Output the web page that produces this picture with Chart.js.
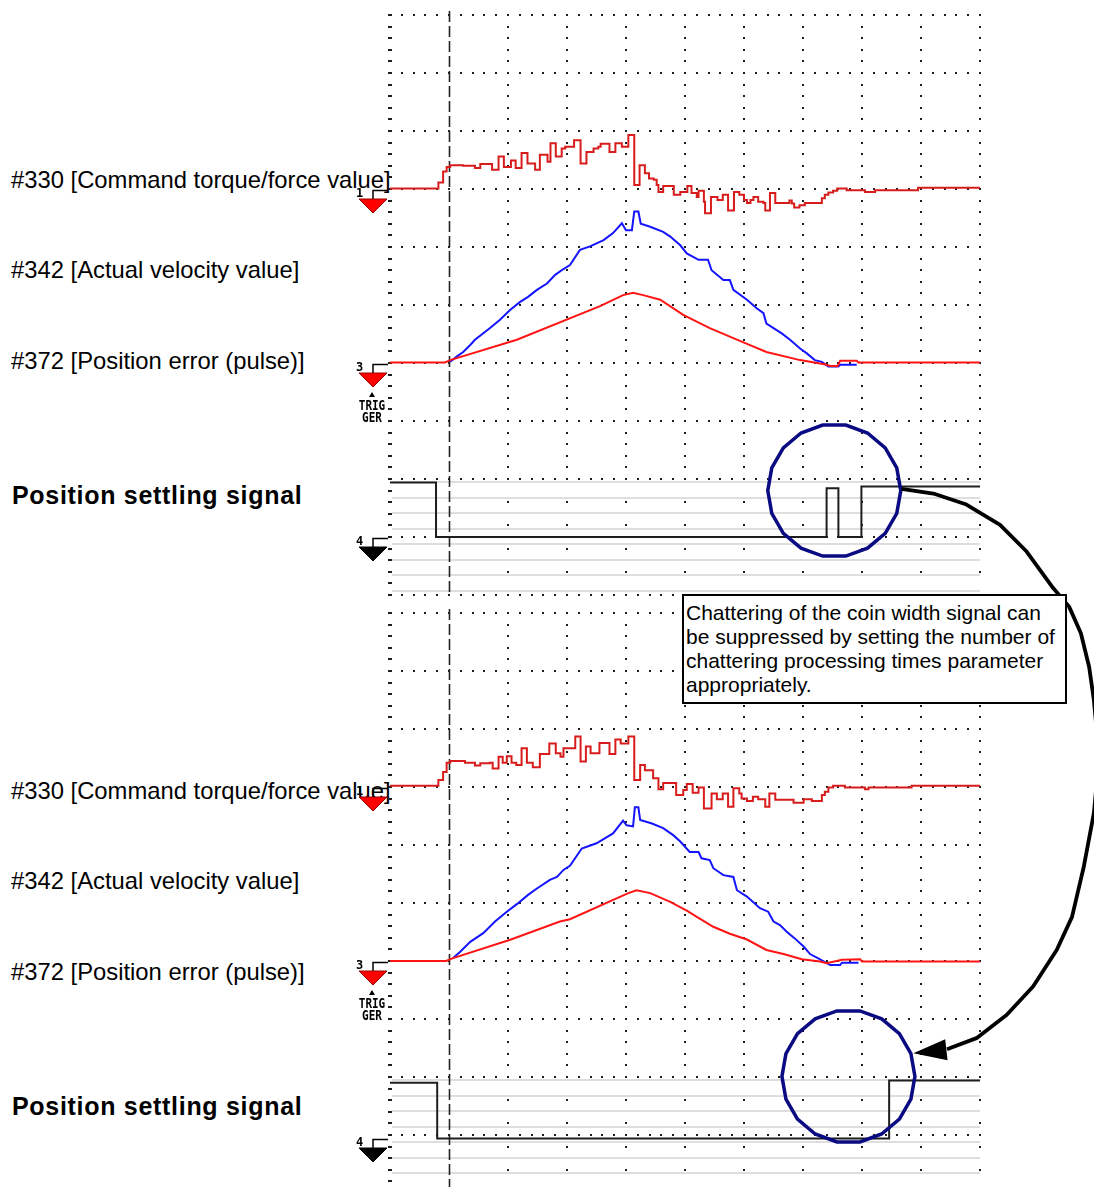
<!DOCTYPE html>
<html>
<head>
<meta charset="utf-8">
<script src="https://cdn.jsdelivr.net/npm/chart.js@4.4.0/dist/chart.umd.min.js"></script>
<style>
  html, body { margin: 0; padding: 0; background: #fff; overflow: hidden; }
  #page { position: relative; width: 1094px; height: 1187px; overflow: hidden; }
  canvas { position: absolute; left: 0; top: 0; }
  .lbl {
    position: absolute; left: 11px; white-space: nowrap; color: #000;
    font-family: "Liberation Sans", Arial, sans-serif; font-size: 23.8px; line-height: 1;
  }
  .lbl.b { left: 12px; font-weight: bold; font-size: 25px; letter-spacing: 0.7px; }
  #note {
    position: absolute; left: 682px; top: 594px; width: 385px; height: 110px;
    box-sizing: border-box; border: 2px solid #000; background: #fff; z-index: 5;
    padding: 5px 0 0 2px; color: #000;
    font-family: "Liberation Sans", Arial, sans-serif; font-size: 21px; line-height: 24px;
  }
</style>
</head>
<body>
<div id="page">
  <div class="lbl" style="top:168px">#330 [Command torque/force value]</div>
  <div class="lbl" style="top:258px">#342 [Actual velocity value]</div>
  <div class="lbl" style="top:349px">#372 [Position error (pulse)]</div>
  <div class="lbl b" style="top:483px">Position settling signal</div>

  <div class="lbl" style="top:779px">#330 [Command torque/force value]</div>
  <div class="lbl" style="top:869px">#342 [Actual velocity value]</div>
  <div class="lbl" style="top:960px">#372 [Position error (pulse)]</div>
  <div class="lbl b" style="top:1094px">Position settling signal</div>

  <canvas id="scope1" width="1094" height="1200"></canvas>
  <canvas id="scope2" width="1094" height="1200"></canvas>

  <div id="note">Chattering of the coin width signal can<br>be suppressed by setting the number of<br>chattering processing times parameter<br>appropriately.</div>
</div>

<script>
// ===== values in scope divisions (x: 10 div, y: 10 div per panel) =====
// upper capture (chattering present)
const torque1X = [0,0.82,0.90,0.96,1.02,1.24,1.44,1.53,1.73,1.84,1.93,2.05,2.13,2.23,2.33,2.46,2.54,2.67,2.72,2.81,2.91,2.97,3.12,3.23,3.33,3.45,3.53,3.57,3.72,3.82,3.93,4.04,4.14,4.23,4.32,4.39,4.47,4.52,4.55,4.63,4.81,4.92,5.04,5.11,5.20,5.23,5.32,5.34,5.44,5.55,5.64,5.73,5.83,5.92,6.00,6.05,6.11,6.16,6.24,6.33,6.36,6.44,6.53,6.77,6.81,6.85,6.94,7.03,7.32,7.37,7.43,7.51,7.58,7.74,8.05,8.22,8.95,10];
const torque1Y = [7.01,7.11,7.30,7.38,7.41,7.40,7.36,7.43,7.33,7.56,7.38,7.49,7.36,7.62,7.44,7.33,7.59,7.47,7.79,7.56,7.70,7.73,7.84,7.44,7.64,7.70,7.73,7.78,7.64,7.79,7.73,7.93,7.07,7.41,7.27,7.18,7.16,7.07,6.95,7.05,6.90,6.95,7.05,6.93,6.86,6.97,6.78,6.58,6.86,6.81,6.90,6.63,6.95,6.90,6.81,6.76,6.81,6.86,6.78,6.76,6.63,6.93,6.76,6.80,6.75,6.68,6.72,6.76,6.84,6.90,6.94,6.97,7.01,6.98,6.95,6.98,7.02,7.02];

const velocity1X = [1.02,1.13,1.24,1.36,1.44,1.69,1.86,2.03,2.20,2.34,2.49,2.66,2.80,2.94,3.05,3.22,3.39,3.62,3.78,3.93,4.00,4.10,4.14,4.21,4.25,4.41,4.63,4.75,4.92,5.03,5.23,5.39,5.45,5.65,5.76,5.82,6.05,6.22,6.33,6.38,6.64,6.78,6.95,7.06,7.20,7.32,7.43,7.60,7.63,7.91];
const velocity1Y = [4.02,4.11,4.19,4.31,4.40,4.60,4.74,4.91,5.05,5.14,5.26,5.37,5.52,5.62,5.69,5.95,6.01,6.12,6.24,6.41,6.29,6.29,6.61,6.61,6.40,6.35,6.26,6.18,6.03,5.89,5.78,5.78,5.60,5.43,5.43,5.26,5.09,4.94,4.86,4.68,4.51,4.40,4.25,4.17,4.05,4.02,3.94,3.94,3.97,3.97];

const posErr1X = [0,0.93,1.02,2.15,3.56,3.95,4.12,4.29,4.58,4.97,5.42,6.00,6.38,6.95,7.29,7.40,7.46,7.59,7.63,7.91,7.94,10];
const posErr1Y = [4.01,4.01,4.05,4.40,4.98,5.17,5.21,5.17,5.09,4.83,4.60,4.35,4.19,4.05,3.99,3.97,3.95,3.95,4.04,4.04,4.01,4.01];

const settle1X = [0,0.78,7.40,7.60,7.99,10];
const settle1Y = [1.94,1.00,1.84,1.00,1.87,1.87];

// lower capture (chattering suppressed)
const torque2X = [0,0.82,0.90,0.96,1.02,1.27,1.44,1.53,1.69,1.74,1.84,1.91,1.98,2.06,2.14,2.23,2.32,2.42,2.54,2.70,2.81,2.89,2.94,3.14,3.23,3.32,3.40,3.55,3.72,3.82,3.91,4.04,4.14,4.24,4.32,4.46,4.55,4.63,4.85,4.97,5.03,5.13,5.23,5.32,5.45,5.54,5.64,5.73,5.82,5.92,5.96,6.05,6.15,6.24,6.36,6.43,6.53,6.84,7.01,7.15,7.32,7.37,7.43,7.51,7.71,8.05,8.11,8.84,10];
const torque2Y = [7.02,7.12,7.26,7.42,7.45,7.42,7.37,7.41,7.42,7.32,7.52,7.42,7.53,7.42,7.38,7.67,7.42,7.34,7.57,7.75,7.58,7.52,7.67,7.87,7.44,7.70,7.58,7.76,7.57,7.82,7.75,7.87,7.12,7.38,7.29,7.15,6.96,7.07,6.86,6.95,7.05,6.90,6.99,6.63,6.89,6.79,6.89,6.66,6.98,6.89,6.80,6.76,6.83,6.79,6.66,6.89,6.78,6.73,6.79,6.76,6.86,6.92,6.99,7.02,6.99,6.96,6.99,7.02,7.02];

const velocity2X = [1.07,1.19,1.36,1.58,1.78,1.98,2.15,2.34,2.49,2.71,2.83,2.94,3.05,3.25,3.50,3.78,3.95,4.01,4.12,4.15,4.21,4.24,4.44,4.63,4.80,4.92,5.08,5.23,5.28,5.42,5.48,5.65,5.82,5.88,6.05,6.27,6.41,6.50,6.61,6.72,6.86,7.01,7.12,7.29,7.46,7.63,7.66,7.94];
const velocity2Y = [4.05,4.16,4.33,4.48,4.68,4.85,4.98,5.14,5.25,5.40,5.45,5.57,5.64,5.94,6.03,6.20,6.42,6.34,6.32,6.65,6.65,6.43,6.37,6.29,6.17,6.06,5.88,5.88,5.77,5.74,5.60,5.48,5.45,5.22,5.11,4.91,4.85,4.68,4.62,4.51,4.39,4.25,4.12,4.03,3.93,3.93,3.97,3.97];

const posErr2X = [0,0.95,1.07,2.05,2.88,3.05,3.84,4.04,4.18,4.41,4.75,5.03,5.20,5.48,5.76,6.05,6.38,6.67,6.98,7.29,7.40,7.66,7.97,8.00,10];
const posErr2Y = [4.00,4.00,4.05,4.37,4.68,4.72,5.08,5.17,5.22,5.17,5.02,4.87,4.76,4.59,4.47,4.37,4.19,4.12,4.03,3.99,3.96,4.02,4.03,3.99,3.99];

const settle2X = [0,0.80,8.46,10];
const settle2Y = [1.90,0.94,1.94,1.94];

// channel zero markers and trigger position
const triggerX = 1.0;
const markers1 = [["1", 7.0, "#ff0000"], ["3", 4.0, "#ff0000"], ["4", 1.0, "#000000"]];
const markers2 = [["1", 7.0, "#ff0000"], ["3", 4.0, "#ff0000"], ["4", 0.95, "#000000"]];

// annotations (circle centres and arrow path, in scope divisions)
const circle1 = [7.53, 1.80];
const circle2 = [7.77, 2.01];
const arrowX = [8.67, 9.21, 9.77, 10.34, 10.79, 11.24, 11.51, 11.71, 11.85, 11.93, 12.02, 11.93, 11.76, 11.56, 11.30, 10.90, 10.45, 9.94, 9.44];
const arrowY = [12.14, 12.06, 11.87, 11.52, 11.06, 10.43, 10.11, 9.65, 9.07, 8.50, 7.52, 6.55, 5.63, 4.76, 4.19, 3.56, 3.07, 2.67, 2.48];
const arrowHead = [[8.87, 2.41], [9.41, 2.65], [9.45, 2.29]];

// =========================
// HELPERS
// =========================
const pts = (xs, ys) => xs.map((x, i) => ({ x: x, y: ys[i] }));

function dot(ctx, px, py, w, h) {
  ctx.fillRect(Math.round(px) - 1, Math.round(py) - 1, w, h);
}

// dotted scope graticule, bit lanes and trigger line
const scopeGrid = {
  id: "scopeGrid",
  beforeDatasetsDraw(chart) {
    const { ctx, chartArea: a, scales: { x, y } } = chart;
    ctx.save();

    // light lanes of the digital channel
    ctx.fillStyle = "#dedede";
    for (let k = 0; k < 8; k++) {
      const py = Math.round(y.getPixelForValue(1.94 - k * 0.267));
      ctx.fillRect(a.left + 2, py - 1, x.getPixelForValue(10) - a.left - 2, 2);
    }

    ctx.fillStyle = "#1e1e1e";
    // horizontal division lines
    for (let j = 0; j <= 10; j++) {
      const py = y.getPixelForValue(j);
      for (let i = 1; i <= 50; i++) dot(ctx, x.getPixelForValue(i / 5), py, 2, 2);
    }
    // vertical division lines
    for (let d = 2; d <= 10; d++) {
      const px = x.getPixelForValue(d);
      for (let j = 0; j <= 50; j++) {
        if (j < 10 && j % 2 === 1) continue;
        dot(ctx, px, y.getPixelForValue(j / 5), 2, 2);
      }
    }
    // left edge ticks
    for (let j = 0; j <= 50; j++) dot(ctx, a.left - 1, y.getPixelForValue(j / 5), 4, 2);

    // trigger
    const tx = Math.round(x.getPixelForValue(triggerX)) + 0.5;
    ctx.strokeStyle = "#222";
    ctx.lineWidth = 1.6;
    ctx.setLineDash([11, 4]);
    ctx.beginPath();
    ctx.moveTo(tx, a.top - 4);
    ctx.lineTo(tx, a.bottom);
    ctx.stroke();
    ctx.restore();
  },
  afterDatasetsDraw(chart, args, opts) {
    const { ctx, chartArea: a, scales: { y } } = chart;
    const x0 = a.left;
    ctx.save();
    opts.markers.forEach(([ch, level, color]) => {
      const py = Math.round(y.getPixelForValue(level));
      ctx.fillStyle = "#000";
      ctx.font = "bold 12px 'DejaVu Sans Mono'";
      ctx.textBaseline = "top";
      ctx.textAlign = "left";
      ctx.fillText(ch, x0 - 34, py - 1);

      ctx.strokeStyle = "#000";
      ctx.lineWidth = 1.5;
      ctx.beginPath();
      ctx.moveTo(x0 - 2, py + 1.5);
      ctx.lineTo(x0 - 17, py + 1.5);
      ctx.lineTo(x0 - 17, py + 10);
      ctx.stroke();

      ctx.beginPath();
      ctx.moveTo(x0 - 31, py + 10);
      ctx.lineTo(x0 - 3, py + 10);
      ctx.lineTo(x0 - 17, py + 24);
      ctx.closePath();
      ctx.fillStyle = color;
      ctx.fill();
      ctx.lineWidth = 1;
      ctx.strokeStyle = color === "#000000" ? "#000" : "#900";
      ctx.stroke();

      if (ch === "3") {
        ctx.fillStyle = "#000";
        ctx.beginPath();
        ctx.moveTo(x0 - 18, py + 29);
        ctx.lineTo(x0 - 21, py + 34);
        ctx.lineTo(x0 - 15, py + 34);
        ctx.closePath();
        ctx.fill();
        ctx.font = "bold 11px 'DejaVu Sans Mono'";
        ctx.textAlign = "center";
        ctx.save();
        ctx.translate(x0 - 18, py + 37);
        ctx.scale(1, 1.2);
        ctx.fillText("TRIG", 0, 0);
        ctx.fillText("GER", 0, 10);
        ctx.restore();
      }
    });
    ctx.restore();
  },
  afterDraw(chart, args, opts) {
    const { ctx, scales: { x, y } } = chart;
    ctx.save();
    // navy ring round the settling edge
    const c = opts.circle;
    const cx = x.getPixelForValue(c[0]), cy = y.getPixelForValue(c[1]);
    ctx.strokeStyle = "#0a0a82";
    ctx.lineWidth = 3.5;
    ctx.beginPath();
    for (let i = 0; i <= 18; i++) {
      const t = (i / 18) * Math.PI * 2;
      const px = cx + 66.5 * Math.cos(t), py = cy + 66.5 * Math.sin(t);
      if (i === 0) ctx.moveTo(px, py); else ctx.lineTo(px, py);
    }
    ctx.closePath();
    ctx.stroke();

    if (opts.arrow) {
      ctx.strokeStyle = "#000";
      ctx.lineWidth = 3.8;
      ctx.lineJoin = "round";
      ctx.beginPath();
      arrowX.forEach((v, i) => {
        const px = x.getPixelForValue(v), py = y.getPixelForValue(arrowY[i]);
        if (i === 0) ctx.moveTo(px, py); else ctx.lineTo(px, py);
      });
      ctx.stroke();
      ctx.fillStyle = "#000";
      ctx.beginPath();
      arrowHead.forEach(([hx, hy], i) => {
        const px = x.getPixelForValue(hx), py = y.getPixelForValue(hy);
        if (i === 0) ctx.moveTo(px, py); else ctx.lineTo(px, py);
      });
      ctx.closePath();
      ctx.fill();
    }
    ctx.restore();
  },
};

// =========================
// CHARTS
// =========================
function makePanel(id, top, d, markers, circle, arrow) {
  const trace = (data, color, width, stepped) => ({
    data: data,
    borderColor: color,
    borderWidth: width,
    pointRadius: 0,
    tension: 0,
    fill: false,
    stepped: stepped,
  });

  return new Chart(document.getElementById(id), {
    type: "line",
    data: {
      datasets: [
        trace(d.posErr, "#ff1414", 2, false),
        trace(d.velocity, "#1414ff", 2, false),
        trace(d.torque, "#d81c1c", 2, true),
        trace(d.settle, "#1e1e1e", 2, true),
      ],
    },
    options: {
      responsive: false,
      animation: false,
      events: [],
      layout: { padding: { left: 390, right: 114, top: top, bottom: 1200 - top - 580 } },
      scales: {
        x: { type: "linear", min: 0, max: 10, display: false },
        y: { type: "linear", min: 0, max: 10, display: false },
      },
      plugins: {
        legend: { display: false },
        tooltip: { enabled: false },
        scopeGrid: { markers: markers, circle: circle, arrow: arrow },
      },
    },
    plugins: [scopeGrid],
  });
}

makePanel("scope1", 15, {
  torque: pts(torque1X, torque1Y),
  velocity: pts(velocity1X, velocity1Y),
  posErr: pts(posErr1X, posErr1Y),
  settle: pts(settle1X, settle1Y),
}, markers1, circle1, false);

makePanel("scope2", 613, {
  torque: pts(torque2X, torque2Y),
  velocity: pts(velocity2X, velocity2Y),
  posErr: pts(posErr2X, posErr2Y),
  settle: pts(settle2X, settle2Y),
}, markers2, circle2, true);
</script>
</body>
</html>
